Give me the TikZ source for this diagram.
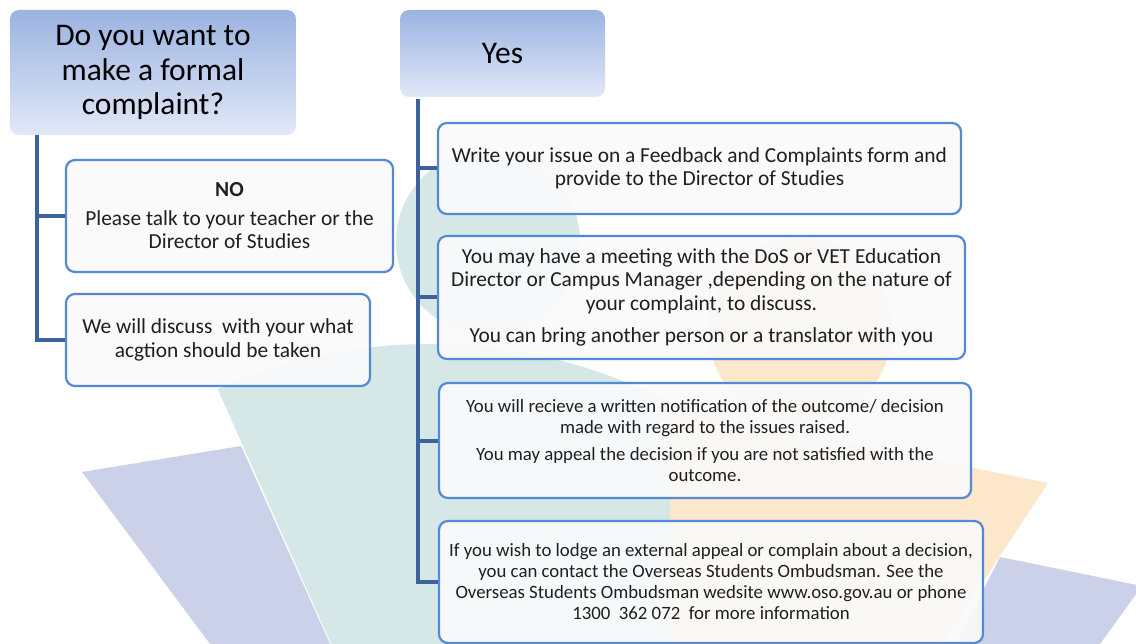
\documentclass[tikz,border=0pt]{standalone}
\usepackage{fontspec}
\setmainfont{Carlito}
\definecolor{tealbg}{RGB}{213,231,231}
\definecolor{bluebg}{RGB}{203,209,232}
\definecolor{orangebg}{RGB}{252,231,202}
\definecolor{trunkblue}{RGB}{62,98,155}
\definecolor{boxblue}{RGB}{84,138,212}
\definecolor{boxfill}{RGB}{250,250,251}
\definecolor{headtop}{RGB}{155,179,225}
\definecolor{headbot}{RGB}{225,232,247}
\newcommand\headfont{\fontsize{31.5}{34.5}\selectfont}
\newcommand\boxfont{\fontsize{21.4}{23.5}\selectfont}
\newcommand\smallfont{\fontsize{18.8}{21}\selectfont}

\begin{document}
\begin{tikzpicture}[x=1pt, y=-1pt,
	headbox/.style={rounded corners=9pt, top color=headtop, bottom color=headbot, align=center, inner sep=0pt, font=\headfont},
	stepbox/.style={draw=boxblue, line width=2.2pt, rounded corners=9pt, fill=boxfill, fill opacity=0.92, text opacity=1, align=center, inner sep=0pt, text=black!88},
	trunk/.style={draw=trunkblue, line width=4pt}]
			%%%%% START %%%%%
			
			\useasboundingbox (0,0) rectangle (1136,644);
			\begin{scope}
			\clip (0,0) rectangle (1136,644);
			% faint figures behind the chart
			\fill[tealbg] (430,866) -- ++(-114:522) arc (-114:-40:522) -- cycle;
			\fill[tealbg] (488,242) circle (92);
			\fill[bluebg] (82,472) -- (241,446) -- (330,644) -- (210,644) -- cycle;
			\fill[orangebg] (800,330) circle (92);
			\fill[orangebg] (670,407) -- (1048,483) -- (942,644) -- (670,644) -- cycle;
			\fill[bluebg] (1000,557) -- (1142,586) -- (1100,644) -- (956,644) -- cycle;
			\end{scope}
			
			% headings
			\node[headbox, minimum width=286, minimum height=125] (askq) at (153,72.5) {Do you want to\\make a formal\\complaint?};
			\node[headbox, minimum width=205, minimum height=87] (yes) at (502.5,53.5) {Yes};
			
			% the "no" side
			\node[stepbox, minimum width=327, minimum height=112, font=\boxfont] (nobox) at (229.5,216) {\textbf{NO}\\[5pt]Please talk to your teacher or the\\Director of Studies};
			\node[stepbox, minimum width=304, minimum height=92, font=\boxfont] (discuss) at (218,340) {We will discuss\ \ with your what\\acgtion should be taken};
			
			% the "yes" side
			\node[stepbox, minimum width=523, minimum height=91, font=\boxfont] (form) at (699.5,168.5) {Write your issue on a Feedback and Complaints form and\\provide to the Director of Studies};
			\node[stepbox, minimum width=527, minimum height=123, font=\boxfont] (meeting) at (701.5,297.5) {You may have a meeting with the DoS or VET Education\\Director or Campus Manager ,depending on the nature of\\your complaint, to discuss.\\[9pt]You can bring another person or a translator with you};
			\node[stepbox, minimum width=532, minimum height=115, font=\smallfont] (outcome) at (705,440.5) {You will recieve a written notification of the outcome/ decision\\made with regard to the issues raised.\\[6pt]You may appeal the decision if you are not satisfied with the\\outcome.};
			\node[stepbox, minimum width=544, minimum height=122, font=\smallfont] (external) at (711,582) {If you wish to lodge an external appeal or complain about a decision,\\you can contact the Overseas Students Ombudsman. See the\\Overseas Students Ombudsman wedsite www.oso.gov.au or phone\\1300\ \ 362 072\ \ for more information};
			
			% trunks and branches
			\coordinate (notrunk) at (37,135);
			\coordinate (yestrunk) at (418,99);
			\draw[trunk] (notrunk) |- (nobox.west);
			\draw[trunk] (notrunk) |- (discuss.west);
			\draw[trunk] (yestrunk) |- (form.west);
			\draw[trunk] (yestrunk) |- (meeting.west);
			\draw[trunk] (yestrunk) |- (outcome.west);
			\draw[trunk] (yestrunk) |- (external.west);
			
			%%%%% END %%%%%
\end{tikzpicture}
\end{document}
